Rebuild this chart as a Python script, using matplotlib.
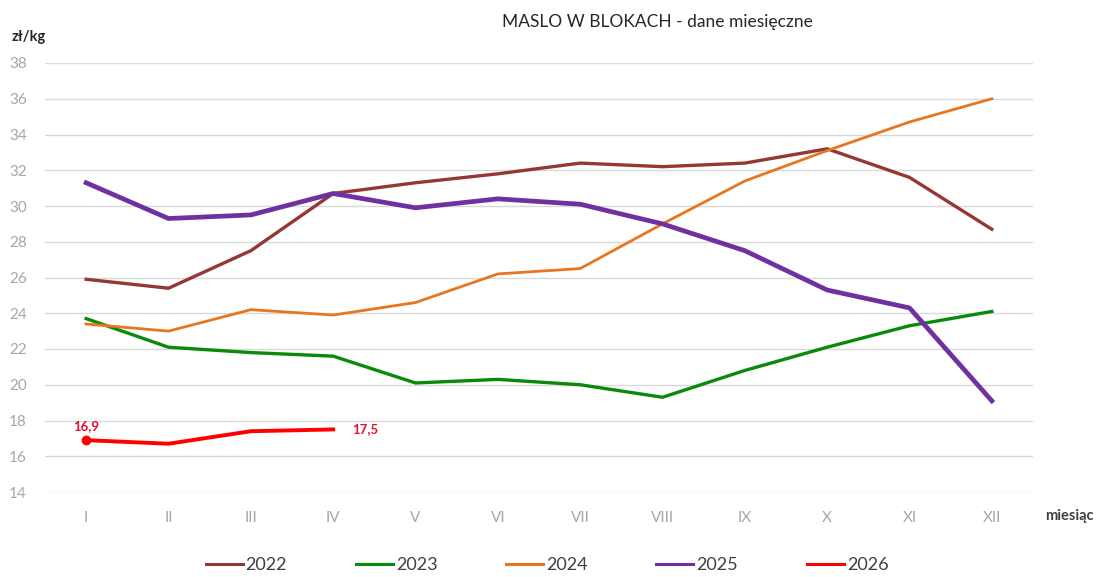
import matplotlib
matplotlib.use("Agg")
import matplotlib.pyplot as plt

plt.rcParams['font.family'] = ['Lato', 'DejaVu Sans']

months = ["I", "II", "III", "IV", "V", "VI", "VII", "VIII", "IX", "X", "XI", "XII"]

y2022 = [25.9, 25.4, 27.5, 30.7, 31.3, 31.8, 32.4, 32.2, 32.4, 33.2, 31.6, 28.7]
y2023 = [23.7, 22.1, 21.8, 21.6, 20.1, 20.3, 20.0, 19.3, 20.8, 22.1, 23.3, 24.1]
y2024 = [23.4, 23.0, 24.2, 23.9, 24.6, 26.2, 26.5, 29.0, 31.4, 33.1, 34.7, 36.0]
y2025 = [31.3, 29.3, 29.5, 30.7, 29.9, 30.4, 30.1, 29.0, 27.5, 25.3, 24.3, 19.1]
y2026 = [16.9, 16.7, 17.4, 17.5]

yticks = list(range(14, 39, 2))

fig = plt.figure(figsize=(10.96, 5.77), dpi=100)
ax = fig.add_axes([45 / 1096, 1 - 492 / 577, (1033 - 45) / 1096, (492 - 63) / 577])

x = range(len(months))
ax.plot(x, y2022, color="#953735", lw=2.4, label="2022")
ax.plot(x, y2023, color="#0A8A0A", lw=2.4, label="2023")
ax.plot(x, y2024, color="#E8761E", lw=2.0, label="2024")
ax.plot(x, y2025, color="#7030A0", lw=3.4, label="2025")
x26 = range(len(y2026))
ax.plot(x26, y2026, color="#FF0000", lw=2.8, label="2026")
ax.plot([0], [y2026[0]], "o", color="#FF0000", ms=6)

# data labels for 2026
ax.annotate(f"{y2026[0]:.1f}".replace(".", ","), (0, y2026[0]), xytext=(0, 6),
            textcoords="offset points", ha="center", va="bottom",
            color="#E8112D", fontsize=9.5, fontweight="bold")
ax.annotate(f"{y2026[-1]:.1f}".replace(".", ","), (len(y2026) - 1, y2026[-1]), xytext=(14, 0),
            textcoords="offset points", ha="left", va="center",
            color="#E8112D", fontsize=9.5, fontweight="bold")

ax.set_xlim(-0.5, len(months) - 0.5)
ax.set_ylim(14, 38)
ax.set_yticks(yticks)
ax.set_xticks(list(x))
ax.set_xticklabels(months)
ax.grid(axis="y", color="#D9D9D9", lw=1)
ax.set_axisbelow(True)
for s in ax.spines.values():
    s.set_visible(False)
ax.tick_params(axis="both", length=0, colors="#A6A6A6", labelsize=11)
ax.tick_params(axis="y", pad=13)
ax.tick_params(axis="x", pad=14)

fig.text(657 / 1096, 1 - 22 / 577, "MASLO W BLOKACH - dane miesięczne",
         ha="center", va="center", fontsize=12.5, color="#262626")
fig.text(12 / 1096, 1 - 37 / 577, "zł/kg", ha="left", va="center",
         fontsize=10.5, fontweight="bold", color="#262626")
fig.text(1045 / 1096, 1 - 516 / 577, "miesiąc", ha="left", va="center",
         fontsize=10.5, fontweight="bold", color="#404040")

leg = fig.legend(loc="center", bbox_to_anchor=(547 / 1096, 1 - 565 / 577), ncol=5,
                 frameon=False, fontsize=13, handlelength=2.05, handletextpad=0.17,
                 columnspacing=3.8, labelcolor="#404040")
for line in leg.get_lines():
    line.set_linewidth(2.2)

fig.savefig("out.png", dpi=100)
